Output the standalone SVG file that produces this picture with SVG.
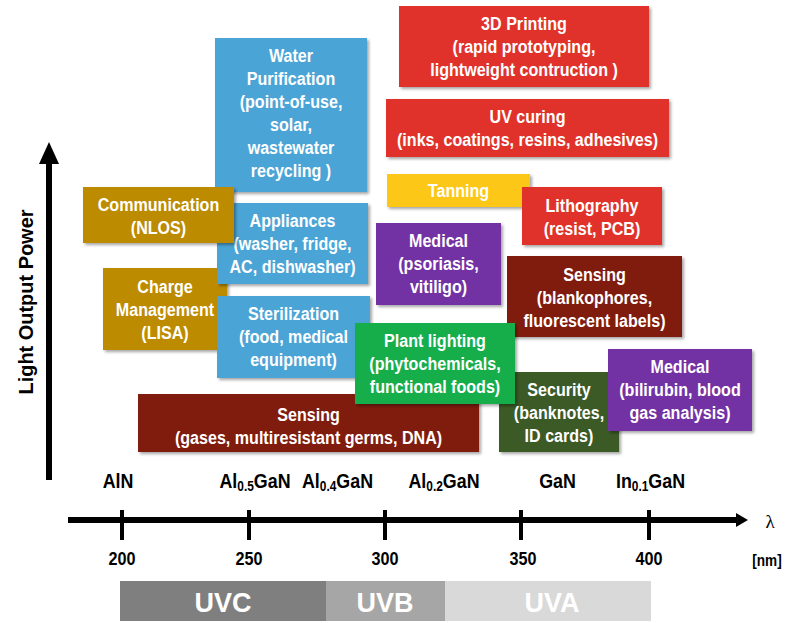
<svg xmlns="http://www.w3.org/2000/svg" width="788" height="623" viewBox="0 0 788 623">
<defs>
<filter id="sh" x="-10%" y="-10%" width="120%" height="130%">
<feDropShadow dx="2" dy="2" stdDeviation="1.5" flood-color="#000" flood-opacity="0.35"/>
</filter>
<style>
.box{filter:url(#sh)}
.t{font-family:"Liberation Sans",Arial,sans-serif;font-weight:bold;font-size:18.5px;fill:#fff;text-anchor:middle}
.blue{fill:#4ca4d6}.gold{fill:#bd8b00}.red{fill:#e0302a}.yel{fill:#fcc712}
.pur{fill:#7232a4}.dred{fill:#7f1b11}.grn{fill:#13ad4b}.dgrn{fill:#3a5a25}
.ax{font-family:"Liberation Sans",Arial,sans-serif;font-weight:bold;fill:#000;text-anchor:middle}
.mat{font-size:21px}.sub{font-size:14px}
.num{font-size:18px}
.uv{font-family:"Liberation Sans",Arial,sans-serif;font-weight:bold;font-size:27px;fill:#fff;text-anchor:middle}
</style>
</defs>
<rect width="788" height="623" fill="#fff"/>

<g id="connectors">
<rect x="46" y="160" width="6" height="320" fill="#000"/>
<polygon points="49,142 39,164 59,164" fill="#000"/>
<rect x="68" y="517" width="670" height="6" fill="#000"/>
<polygon points="748,520 736,513 736,527" fill="#000"/>
<rect x="120" y="510" width="4" height="30" fill="#000"/>
<rect x="247" y="510" width="4" height="30" fill="#000"/>
<rect x="383" y="510" width="4" height="30" fill="#000"/>
<rect x="519" y="510" width="4" height="30" fill="#000"/>
<rect x="647" y="510" width="4" height="30" fill="#000"/>
</g>

<g id="axis-labels">
<text class="ax" font-size="21" transform="translate(33,302) rotate(-90) scale(0.95,1)">Light Output Power</text>
<g transform="translate(118,0) scale(0.85,1)"><text class="ax mat" x="0" y="488">AlN</text></g>
<g transform="translate(255,0) scale(0.85,1)"><text class="ax mat" x="0" y="488">Al<tspan class="sub" dy="3">0.5</tspan><tspan dy="-3">GaN</tspan></text></g>
<g transform="translate(337.5,0) scale(0.85,1)"><text class="ax mat" x="0" y="488">Al<tspan class="sub" dy="3">0.4</tspan><tspan dy="-3">GaN</tspan></text></g>
<g transform="translate(444,0) scale(0.85,1)"><text class="ax mat" x="0" y="488">Al<tspan class="sub" dy="3">0.2</tspan><tspan dy="-3">GaN</tspan></text></g>
<g transform="translate(557.5,0) scale(0.85,1)"><text class="ax mat" x="0" y="488">GaN</text></g>
<g transform="translate(650.5,0) scale(0.85,1)"><text class="ax mat" x="0" y="488">In<tspan class="sub" dy="3">0.1</tspan><tspan dy="-3">GaN</tspan></text></g>
<text x="770" y="528" font-family="Liberation Serif,serif" font-size="19" text-anchor="middle" fill="#000">λ</text>
<g transform="translate(122,0) scale(0.9,1)"><text class="ax num" x="0" y="565">200</text></g>
<g transform="translate(249,0) scale(0.9,1)"><text class="ax num" x="0" y="565">250</text></g>
<g transform="translate(385,0) scale(0.9,1)"><text class="ax num" x="0" y="565">300</text></g>
<g transform="translate(523,0) scale(0.9,1)"><text class="ax num" x="0" y="565">350</text></g>
<g transform="translate(649,0) scale(0.9,1)"><text class="ax num" x="0" y="565">400</text></g>
<g transform="translate(767,0) scale(0.8,1)"><text class="ax" x="0" y="566" font-size="17">[nm]</text></g>
</g>

<g id="uv-bands">
<rect x="120" y="581" width="206" height="40" fill="#7f7f7f"/>
<rect x="326" y="581" width="119" height="40" fill="#a6a6a6"/>
<rect x="445" y="581" width="206" height="40" fill="#d9d9d9"/>
<text class="uv" x="223" y="612">UVC</text>
<text class="uv" x="385" y="612">UVB</text>
<text class="uv" x="552" y="612">UVA</text>
</g>

<g id="sensing-gases"><rect class="box dred" x="138" y="394" width="341" height="58"/>
<g transform="translate(308.5,0) scale(0.87,1)"><text class="t" x="0" y="421">Sensing</text><text class="t" x="0" y="444">(gases, multiresistant germs, DNA)</text></g></g>

<g id="charge-management"><rect class="box gold" x="103" y="268" width="124" height="82"/>
<g transform="translate(165,0) scale(0.87,1)"><text class="t" x="0" y="293">Charge</text><text class="t" x="0" y="316">Management</text><text class="t" x="0" y="339">(LISA)</text></g></g>

<g id="sterilization"><rect class="box blue" x="217" y="296" width="153" height="82"/>
<g transform="translate(293.5,0) scale(0.87,1)"><text class="t" x="0" y="320.5">Sterilization</text><text class="t" x="0" y="343.5">(food, medical</text><text class="t" x="0" y="366.5">equipment)</text></g></g>

<g id="appliances"><rect class="box blue" x="217" y="203" width="151" height="81"/>
<g transform="translate(292.5,0) scale(0.87,1)"><text class="t" x="0" y="227">Appliances</text><text class="t" x="0" y="250">(washer, fridge,</text><text class="t" x="0" y="273">AC, dishwasher)</text></g></g>

<g id="water-purification"><rect class="box blue" x="215" y="38" width="152" height="154"/>
<g transform="translate(291,0) scale(0.87,1)"><text class="t" x="0" y="62">Water</text><text class="t" x="0" y="85">Purification</text><text class="t" x="0" y="108">(point-of-use,</text><text class="t" x="0" y="131">solar,</text><text class="t" x="0" y="154">wastewater</text><text class="t" x="0" y="177">recycling )</text></g></g>

<g id="communication"><rect class="box gold" x="83" y="187" width="151" height="56"/>
<g transform="translate(158.5,0) scale(0.87,1)"><text class="t" x="0" y="211.5">Communication</text><text class="t" x="0" y="234.5">(NLOS)</text></g></g>

<g id="printing-3d"><rect class="box red" x="399" y="6" width="250" height="81"/>
<g transform="translate(524,0) scale(0.87,1)"><text class="t" x="0" y="30.5">3D Printing</text><text class="t" x="0" y="53.5">(rapid prototyping,</text><text class="t" x="0" y="76.5">lightweight contruction )</text></g></g>

<g id="uv-curing"><rect class="box red" x="386" y="99" width="283" height="58"/>
<g transform="translate(527.5,0) scale(0.87,1)"><text class="t" x="0" y="123">UV curing</text><text class="t" x="0" y="146">(inks, coatings, resins, adhesives)</text></g></g>

<g id="tanning"><rect class="box yel" x="387" y="174" width="143" height="33"/>
<g transform="translate(458.5,0) scale(0.87,1)"><text class="t" x="0" y="197.5">Tanning</text></g></g>

<g id="lithography"><rect class="box red" x="522" y="187" width="140" height="58"/>
<g transform="translate(592,0) scale(0.87,1)"><text class="t" x="0" y="212">Lithography</text><text class="t" x="0" y="235">(resist, PCB)</text></g></g>

<g id="medical-psoriasis"><rect class="box pur" x="376" y="223" width="125" height="82"/>
<g transform="translate(438.5,0) scale(0.87,1)"><text class="t" x="0" y="247">Medical</text><text class="t" x="0" y="270">(psoriasis,</text><text class="t" x="0" y="293">vitiligo)</text></g></g>

<g id="security"><rect class="box dgrn" x="499" y="372" width="120" height="80"/>
<g transform="translate(559,0) scale(0.87,1)"><text class="t" x="0" y="396.5">Security</text><text class="t" x="0" y="419.5">(banknotes,</text><text class="t" x="0" y="442.5">ID cards)</text></g></g>

<g id="medical-bilirubin"><rect class="box pur" x="608" y="349" width="144" height="82"/>
<g transform="translate(680,0) scale(0.87,1)"><text class="t" x="0" y="373.5">Medical</text><text class="t" x="0" y="396.5">(bilirubin, blood</text><text class="t" x="0" y="419.5">gas analysis)</text></g></g>

<g id="sensing-labels"><rect class="box dred" x="507" y="256" width="175" height="81"/>
<g transform="translate(594.5,0) scale(0.87,1)"><text class="t" x="0" y="281">Sensing</text><text class="t" x="0" y="304">(blankophores,</text><text class="t" x="0" y="327">fluorescent labels)</text></g></g>

<g id="plant-lighting"><rect class="box grn" x="355" y="323" width="160" height="81"/>
<g transform="translate(435,0) scale(0.87,1)"><text class="t" x="0" y="347">Plant lighting</text><text class="t" x="0" y="370">(phytochemicals,</text><text class="t" x="0" y="393">functional foods)</text></g></g>
</svg>
